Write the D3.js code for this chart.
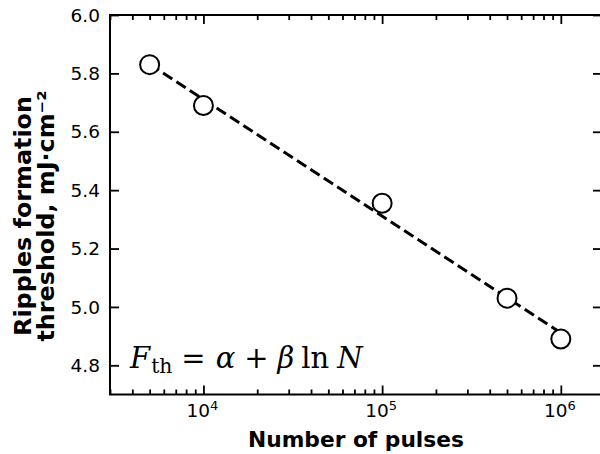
<!DOCTYPE html>
<html><head><meta charset="utf-8">
<script src="https://cdn.jsdelivr.net/npm/d3@7"></script>
<style>body{margin:0;background:#fff;overflow:hidden}</style></head>
<body>
<script>
// ---- data ----
const pulses = [5000, 10000, 100000, 500000, 1000000];
const threshold = [5.83, 5.69, 5.355, 5.03, 4.89];
const fitPulses = [5000, 1000000];
const fitThreshold = [5.831, 4.911];
const yTicks = [4.8, 5.0, 5.2, 5.4, 5.6, 5.8, 6.0];
const xMajorTicks = [1e4, 1e5, 1e6];
const xMajorExp = ["4", "5", "6"];
const xDomain = [3000, 1.7e6];
const yDomain = [4.7, 6.0];

const W = 600, H = 454;
const L = 110, R = 602, T = 15, B = 394.5;

const svg = d3.select("body").append("svg").attr("width", W).attr("height", H)
  .style("font-family", "DejaVu Sans");

const x = d3.scaleLog().domain(xDomain).range([L, R]);
const y = d3.scaleLinear().domain(yDomain).range([B, T]);

const minor = x.ticks().filter(v => !xMajorTicks.includes(v));

function fitWidth(sel, target) {
  const n = sel.node();
  const fs = parseFloat(sel.attr("font-size"));
  const w = n.getComputedTextLength();
  if (w > 0) sel.attr("font-size", fs * target / w);
}

// axes with inward ticks
const gBottom = svg.append("g").attr("transform", `translate(0,${B})`);
gBottom.call(d3.axisBottom(x).tickValues(minor).tickSize(-5).tickFormat(""));
gBottom.call(g => g.append("g").call(d3.axisBottom(x).tickValues(xMajorTicks).tickSize(-9).tickFormat("")));
const gTop = svg.append("g").attr("transform", `translate(0,${T})`);
gTop.call(d3.axisTop(x).tickValues(minor).tickSize(-5).tickFormat(""));
gTop.call(g => g.append("g").call(d3.axisTop(x).tickValues(xMajorTicks).tickSize(-9).tickFormat("")));
svg.append("g").attr("transform", `translate(${L},0)`)
  .call(d3.axisLeft(y).tickValues(yTicks).tickSize(-9).tickFormat(""));
svg.append("g").attr("transform", `translate(${R},0)`)
  .call(d3.axisRight(y).tickValues(yTicks).tickSize(-9).tickFormat(""));
svg.selectAll(".domain").remove();
svg.selectAll(".tick line").attr("stroke", "#000").attr("stroke-width", 1.8);

// frame
svg.append("rect").attr("x", L).attr("y", T).attr("width", R - L).attr("height", B - T)
  .attr("fill", "none").attr("stroke", "#000").attr("stroke-width", 2);

// y tick labels
svg.append("g").selectAll("text").data(yTicks).join("text")
  .attr("x", L - 10).attr("y", d => y(d)).attr("dy", "0.36em")
  .attr("text-anchor", "end").attr("font-size", 18.5).text(d => d.toFixed(1));

// x tick labels
const xl = svg.append("g").selectAll("text").data(xMajorTicks).join("text")
  .attr("x", d => x(d) - 1).attr("y", 417).attr("text-anchor", "middle").attr("font-size", 18.5);
xl.append("tspan").text("10");
xl.append("tspan").attr("dy", -7).attr("font-size", 13).text((d, i) => xMajorExp[i]);

// axis titles
const xt = svg.append("text").attr("x", (L + R) / 2).attr("y", 447).attr("text-anchor", "middle")
  .attr("font-size", 18.5).attr("font-weight", "bold").text("Number of pulses");
fitWidth(xt, 216);
const yt = svg.append("g").attr("transform", "translate(0,216) rotate(-90)");
const yt1 = yt.append("text").attr("x", 0).attr("y", 31).attr("text-anchor", "middle")
  .attr("font-size", 18.5).attr("font-weight", "bold").text("Ripples formation");
fitWidth(yt1, 240);
const yt2 = yt.append("text").attr("x", 0).attr("y", 54).attr("text-anchor", "middle")
  .attr("font-size", 18.5).attr("font-weight", "bold").text("threshold, mJ·cm⁻²");
yt2.attr("font-size", yt1.attr("font-size"));

// fit line
const line = d3.line().x(d => x(d[0])).y(d => y(d[1]));
svg.append("path").datum(fitPulses.map((p, i) => [p, fitThreshold[i]]))
  .attr("d", line).attr("fill", "none").attr("stroke", "#000")
  .attr("stroke-width", 3).attr("stroke-dasharray", "11,5");

// points
svg.append("g").selectAll("circle").data(pulses.map((p, i) => [p, threshold[i]])).join("circle")
  .attr("cx", d => x(d[0])).attr("cy", d => y(d[1])).attr("r", 9.5)
  .attr("fill", "#fff").attr("stroke", "#000").attr("stroke-width", 2);

// formula
const f = svg.append("text").attr("x", 130).attr("y", 368)
  .attr("font-family", "DejaVu Serif").attr("font-size", 29).attr("font-weight", 300);
f.append("tspan").attr("font-style", "italic").text("F");
f.append("tspan").attr("font-size", "0.7em").attr("dy", 5).attr("dx", 1).text("th");
f.append("tspan").attr("dy", -5).attr("dx", 9).text("=");
f.append("tspan").attr("dx", 10).attr("font-style", "italic").text("α");
f.append("tspan").attr("dx", 9).text("+");
f.append("tspan").attr("dx", 9).attr("font-style", "italic").text("β");
f.append("tspan").attr("dx", 7).text("ln");
f.append("tspan").attr("dx", 8).attr("font-style", "italic").text("N");
</script>
</body></html>
